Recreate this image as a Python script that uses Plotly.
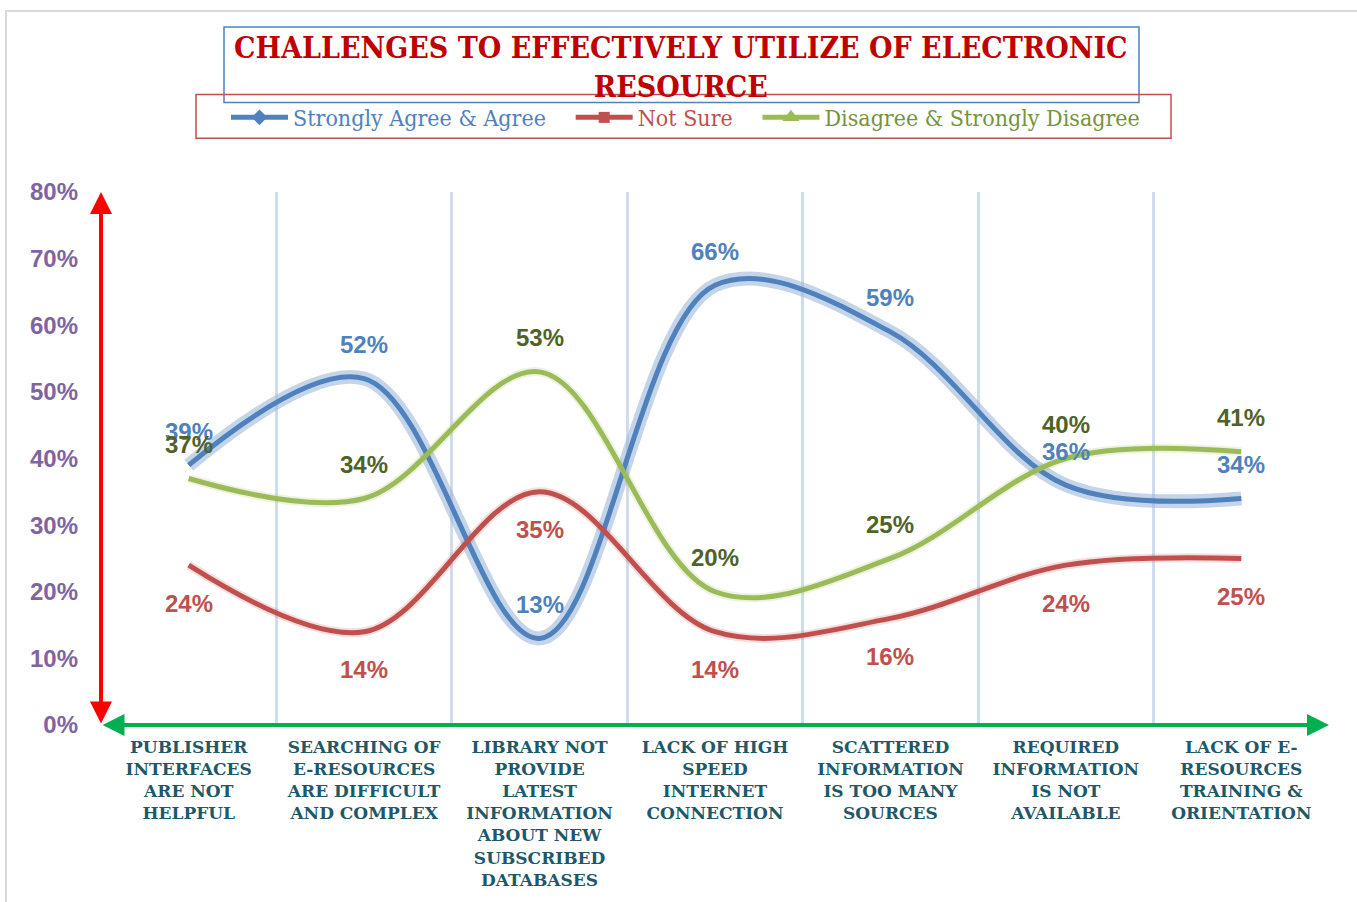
import plotly.graph_objects as go

# Survey categories (x axis) and the three response groups, in percent
categories = [
    "PUBLISHER<br>INTERFACES<br>ARE NOT<br>HELPFUL",
    "SEARCHING OF<br>E-RESOURCES<br>ARE DIFFICULT<br>AND COMPLEX",
    "LIBRARY NOT<br>PROVIDE<br>LATEST<br>INFORMATION<br>ABOUT NEW<br>SUBSCRIBED<br>DATABASES",
    "LACK OF HIGH<br>SPEED<br>INTERNET<br>CONNECTION",
    "SCATTERED<br>INFORMATION<br>IS TOO MANY<br>SOURCES",
    "REQUIRED<br>INFORMATION<br>IS NOT<br>AVAILABLE",
    "LACK OF E-<br>RESOURCES<br>TRAINING &<br>ORIENTATION",
]
agree = [39, 52, 13, 66, 59, 36, 34]
not_sure = [24, 14, 35, 14, 16, 24, 25]
disagree = [37, 34, 53, 20, 25, 40, 41]

series_names = ["Strongly Agree & Agree", "Not Sure", "Disagree & Strongly Disagree"]
y_ticks = [0, 10, 20, 30, 40, 50, 60, 70, 80]

BLUE, RED, GREEN = "#4f81bd", "#c0504d", "#9bbb59"
GREEN_TXT, GREEN_LEG = "#4f6228", "#77933c"
PURPLE, TEAL = "#8064a2", "#215868"

x = list(range(len(categories)))
series = [
    (agree, BLUE, BLUE, BLUE, "diamond", 34, "rgba(149,179,215,0.55)", 14),
    (not_sure, RED, RED, RED, "square", -38, "rgba(192,80,77,0.18)", 9),
    (disagree, GREEN, GREEN_TXT, GREEN_LEG, "triangle-up", 34, "rgba(155,187,89,0.18)", 9),
]
# spacing after each legend label
legend_pad = ["&nbsp;&nbsp;&nbsp;", "&nbsp;&nbsp;&nbsp;", ""]
legend_marker_size = [12, 11, 15]

fig = go.Figure()

# soft glow / shadow under each curve
for vals, col, tcol, lcol, sym, dy, glow, gw in series:
    fig.add_trace(go.Scatter(
        x=x, y=[v / 100 for v in vals], mode="lines",
        line=dict(color=glow, width=gw, shape="spline", smoothing=1.0),
        showlegend=False, hoverinfo="skip"))

# the curves themselves
for vals, col, tcol, lcol, sym, dy, glow, gw in series:
    fig.add_trace(go.Scatter(
        x=x, y=[v / 100 for v in vals], mode="lines",
        line=dict(color=col, width=5, shape="spline", smoothing=1.0),
        showlegend=False, hoverinfo="skip"))

# legend entries (line with marker)
for name, pad, msize, (vals, col, tcol, lcol, sym, dy, glow, gw) in zip(
        series_names, legend_pad, legend_marker_size, series):
    fig.add_trace(go.Scatter(
        x=[None], y=[None], mode="lines+markers",
        line=dict(color=col, width=5),
        marker=dict(symbol=sym, size=msize, color=col),
        name=f'<span style="color:{lcol}">{name}</span>{pad}'))

annotations = []
# value labels
for vals, col, tcol, lcol, sym, dy, glow, gw in series:
    for xi, v in zip(x, vals):
        annotations.append(dict(
            x=xi, y=v / 100, xref="x", yref="y", text=f"<b>{v}%</b>",
            showarrow=False, yshift=dy, xanchor="center", yanchor="middle",
            font=dict(family="Liberation Sans, Arial", size=24, color=tcol)))

# title
annotations.append(dict(
    x=(681 - 101) / 1228, y=(727 - 65) / 536, xref="paper", yref="paper",
    text="<b>CHALLENGES TO EFFECTIVELY UTILIZE OF ELECTRONIC<br>RESOURCE</b>",
    showarrow=False, xanchor="center", yanchor="middle",
    font=dict(family="DejaVu Serif Condensed", size=30, color="#c00000")))

# axis arrows
annotations.append(dict(
    x=-0.5, y=0.8, xref="x", yref="y", ax=-0.5, ay=0.0, axref="x", ayref="y",
    text="", showarrow=True, arrowhead=2, arrowside="end+start",
    arrowsize=1.1, arrowwidth=4, arrowcolor="#ff0000"))
annotations.append(dict(
    x=6.5, y=0.0, xref="x", yref="y", ax=-0.5, ay=0.0, axref="x", ayref="y",
    text="", showarrow=True, arrowhead=2, arrowside="end+start",
    arrowsize=1.1, arrowwidth=4, arrowcolor="#00b050"))

shapes = [
    # outer frame
    dict(type="rect", xref="paper", yref="paper",
         x0=(6 - 101) / 1228, x1=(1362 - 101) / 1228,
         y0=(727 - 910) / 536, y1=(727 - 9) / 536,
         line=dict(color="#d9d9d9", width=2), layer="below"),
    # title box
    dict(type="rect", xref="paper", yref="paper",
         x0=(224 - 101) / 1228, x1=(1139 - 101) / 1228,
         y0=(727 - 101) / 536, y1=(727 - 25) / 536,
         line=dict(color="#4f81bd", width=1.5)),
    # legend box
    dict(type="rect", xref="paper", yref="paper",
         x0=(196 - 101) / 1228, x1=(1171 - 101) / 1228,
         y0=(727 - 137) / 536, y1=(727 - 93) / 536,
         line=dict(color="#c0504d", width=1.5)),
]

fig.update_layout(
    width=1357, height=902,
    margin=dict(l=101, r=28, t=192, b=173),
    paper_bgcolor="white", plot_bgcolor="white",
    showlegend=True,
    legend=dict(orientation="h", x=(226 - 101) / 1228, y=(727 - 116) / 536,
                xanchor="left", yanchor="middle", itemwidth=57,
                font=dict(family="DejaVu Serif Condensed", size=23),
                bgcolor="rgba(0,0,0,0)", tracegroupgap=0),
    annotations=annotations, shapes=shapes,
    xaxis=dict(
        range=[-0.5, 6.5], tickvals=x,
        ticktext=[f"<b>{c}</b>" for c in categories],
        tickfont=dict(family="DejaVu Serif", size=17, color=TEAL),
        showgrid=False, zeroline=False, showline=False, ticks="",
        ticklabelstandoff=10,
        minor=dict(tickvals=[i + 0.5 for i in x], showgrid=True,
                   gridcolor="#cfdcee", gridwidth=3),
    ),
    yaxis=dict(
        range=[0, 0.8], tickvals=[t / 100 for t in y_ticks],
        ticktext=[f"<b>{t}%</b>" for t in y_ticks],
        tickfont=dict(family="Liberation Sans, Arial", size=24, color=PURPLE),
        showgrid=False, zeroline=False, showline=False, ticks="",
        ticklabelstandoff=22,
    ),
)

fig.write_html("out.html")
